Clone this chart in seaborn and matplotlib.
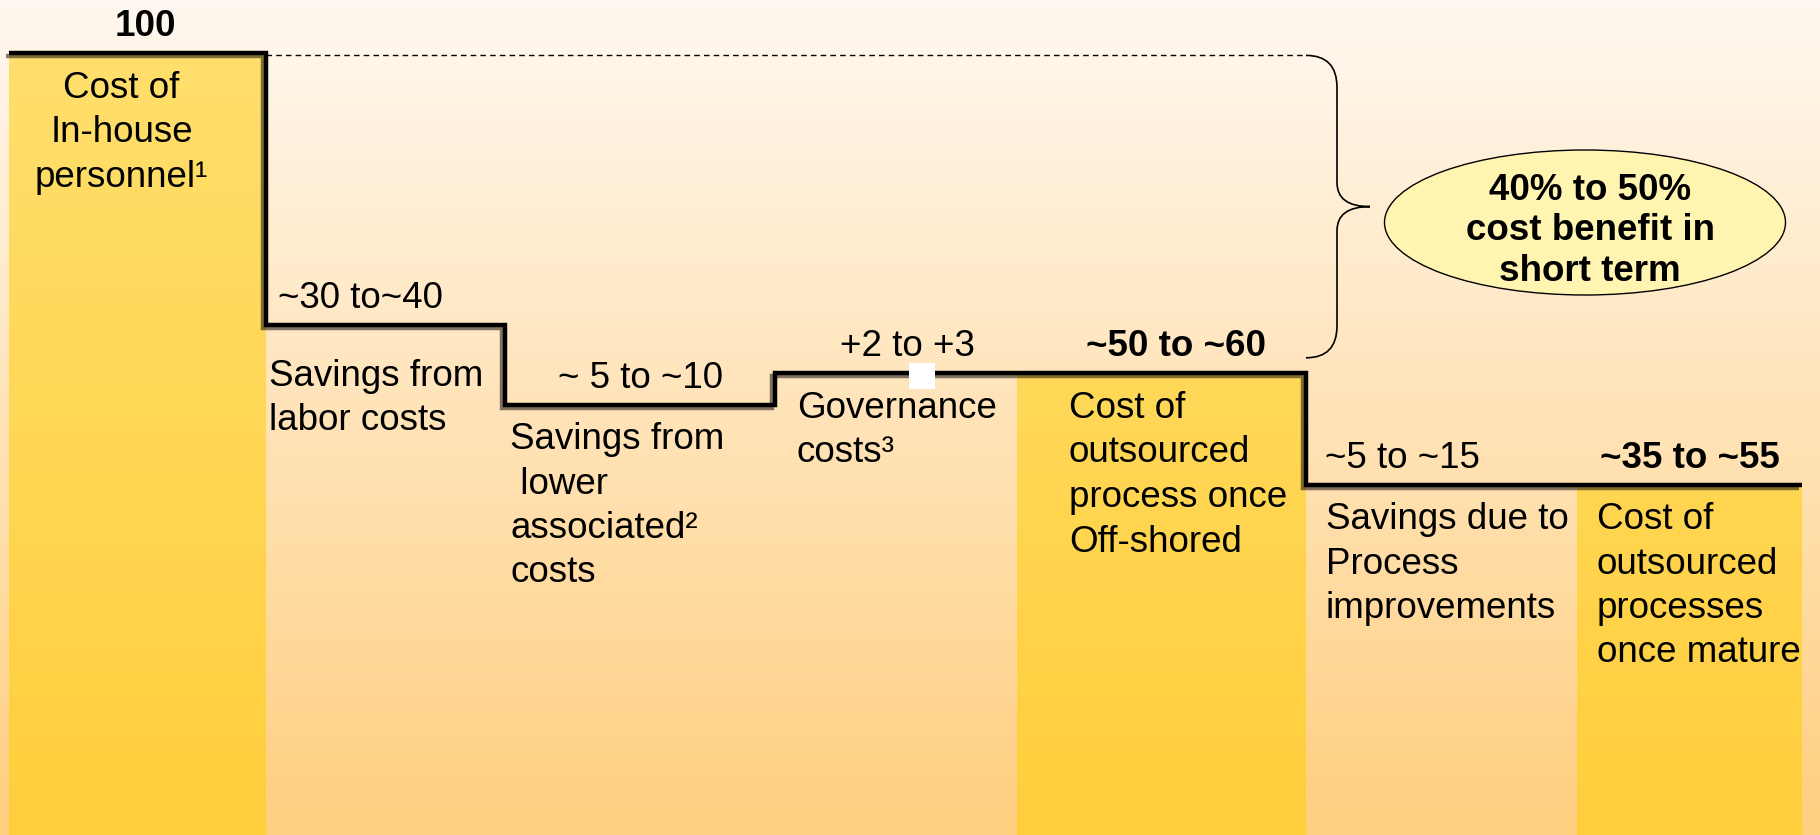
"""Offshoring cost waterfall: in-house cost vs. outsourced cost (index = 100)."""
import numpy as np
import pandas as pd

import matplotlib
matplotlib.use("Agg")
import matplotlib.pyplot as plt
import matplotlib.patheffects as pe
from matplotlib.colors import LinearSegmentedColormap
from matplotlib.patches import Ellipse, Rectangle, PathPatch
from matplotlib.path import Path
import seaborn as sns

sns.set_theme(style="white")
plt.rcParams["font.family"] = ["Liberation Sans", "DejaVu Sans"]
plt.rcParams["text.color"] = "black"

# --- data ------------------------------------------------------------------
step_names = [
    ["Cost of", "In-house", "personnel¹"],
    ["Savings from", "labor costs"],
    ["Savings from", " lower", "associated²", "costs"],
    ["Governance", "costs³"],
    ["Cost of", "outsourced", "process once", "Off-shored"],
    ["Savings due to", "Process", "improvements"],
    ["Cost of", "outsourced", "processes", "once mature"],
]
# change per step; None marks a subtotal column
step_change = [100, -34, -10, 4, None, -14, None]
value_labels = ["100", "~30 to~40", "~ 5 to ~10", "+2 to +3",
                "~50 to ~60", "~5 to ~15", "~35 to ~55"]
benefit_lines = ["40% to 50%", "cost benefit in", "short term"]

levels = []
for c in step_change:
    levels.append(levels[-1] if c is None else (levels[-1] if levels else 0) + c)
is_total = [i == 0 or c is None for i, c in enumerate(step_change)]

# --- layout ----------------------------------------------------------------
W, H, DPI = 1820, 835, 100
PX = 72 / DPI            # points per pixel
FS = 26.5
PX_PER_UNIT = 8.0
TOP_PX = 53              # pixel row of the 100 line
y_hi = 100 + TOP_PX / PX_PER_UNIT
y_lo = 100 - (H - TOP_PX) / PX_PER_UNIT

col_edges = [9, 266, 505, 775, 1017, 1306, 1577, 1802]
val_ha = ["center", "left", "center", "center", "center", "left", "center"]
val_dx = [7.5, 12, 1, 11, 15, 19, 0]
cat_ha = ["center", "left", "left", "left", "left", "left", "left"]
cat_dx = [-16, 3, 5, 22, 52, 20, 20]
cat_base = [45, 61, 44, 45, 45, 44, 44]   # first baseline, px below the level
LINE_PX = 44.5

fig = plt.figure(figsize=(W / DPI, H / DPI), dpi=DPI)
ax = fig.add_axes([0, 0, 1, 1])

# background gradient
grad = np.linspace(0, 1, 256).reshape(-1, 1)
bg_cmap = LinearSegmentedColormap.from_list("bg", ["#FFCF80", "#FFF8F0"])
ax.imshow(grad, cmap=bg_cmap, origin="lower", aspect="auto",
          extent=(0, W, y_lo, y_hi), zorder=0)

# total bars, gold gradient clipped to each bar
bar_cmap = LinearSegmentedColormap.from_list("bar", ["#FFCE3C", "#FFE070"])
for i, tot in enumerate(is_total):
    if not tot:
        continue
    bars = ax.bar(col_edges[i], levels[i] - y_lo + 5, bottom=y_lo - 5,
                  width=col_edges[i + 1] - col_edges[i], align="edge",
                  color="none", linewidth=0, zorder=1)
    img = ax.imshow(grad, cmap=bar_cmap, origin="lower", aspect="auto",
                    extent=(0, W, y_lo, y_hi), zorder=1)
    img.set_clip_path(bars[0])

# step line through all columns
step_df = pd.DataFrame({"x": col_edges, "level": levels + [levels[-1]]})
sns.lineplot(data=step_df, x="x", y="level", estimator=None, sort=False,
             drawstyle="steps-post", color="black", linewidth=3.2,
             solid_capstyle="butt", solid_joinstyle="miter", legend=False,
             path_effects=[pe.SimpleLineShadow(offset=(-2.2, -2.2),
                                               shadow_color="black", alpha=0.5),
                           pe.Normal()],
             ax=ax, zorder=4)

# small white patch over the governance step (as in source)
ax.add_patch(Rectangle((col_edges[3] + 134, levels[3] - 2.0), 26, 3.3,
                       facecolor="white", edgecolor="none", zorder=5))

# value labels above each level
for i, lab in enumerate(value_labels):
    if val_ha[i] == "center":
        x = (col_edges[i] + col_edges[i + 1]) / 2
    else:
        x = col_edges[i]
    ax.annotate(lab, xy=(x, levels[i]), xytext=(val_dx[i] * PX, 17 * PX),
                textcoords="offset points", ha=val_ha[i], va="baseline",
                fontsize=FS, fontweight="bold" if is_total[i] else "normal",
                color="black", zorder=6)

# category labels below each level
for i, lines in enumerate(step_names):
    if cat_ha[i] == "center":
        x = (col_edges[i] + col_edges[i + 1]) / 2
    else:
        x = col_edges[i]
    for k, line in enumerate(lines):
        ax.annotate(line, xy=(x, levels[i]),
                    xytext=(cat_dx[i] * PX, -(cat_base[i] + k * LINE_PX) * PX),
                    textcoords="offset points", ha=cat_ha[i], va="baseline",
                    fontsize=FS, color="black", zorder=6)

# dashed reference line + brace from start level to first subtotal
x0 = col_edges[5]
ax.plot([col_edges[1], x0], [levels[0] - 0.3] * 2, color="black", lw=1,
        linestyle=(0, (4, 3)), zorder=3)
yt, yb = levels[0] - 0.3, levels[4] + 1.9
ym = (yt + yb) / 2
xv, xc = x0 + 31, x0 + 64
r, rm = 4.0, 3.0
verts = [(x0, yt), (xv, yt), (xv, yt - r),
         (xv, ym + rm), (xv, ym), (xc, ym),
         (xv, ym), (xv, ym - rm),
         (xv, yb + r), (xv, yb), (x0, yb)]
codes = [Path.MOVETO, Path.CURVE3, Path.CURVE3,
         Path.LINETO, Path.CURVE3, Path.CURVE3,
         Path.CURVE3, Path.CURVE3,
         Path.LINETO, Path.CURVE3, Path.CURVE3]
ax.add_patch(PathPatch(Path(verts, codes), facecolor="none",
                       edgecolor="black", lw=1.2, zorder=3))

# callout ellipse
ell_x, ell_y = 1585, 100 - (222.5 - TOP_PX) / PX_PER_UNIT
ax.add_patch(Ellipse((ell_x, ell_y), 401, 145 / PX_PER_UNIT,
                     facecolor="#FFF5B0", edgecolor="black", lw=1, zorder=3))
for k, line in enumerate(benefit_lines):
    ax.annotate(line, xy=(ell_x, ell_y),
                xytext=(5 * PX, -(-22.5 + k * 40.5) * PX),
                textcoords="offset points", ha="center", va="baseline",
                fontsize=FS, fontweight="bold", color="black", zorder=6)

ax.set_xlim(0, W)
ax.set_ylim(y_lo, y_hi)
ax.axis("off")

fig.savefig("out.png", dpi=DPI)
